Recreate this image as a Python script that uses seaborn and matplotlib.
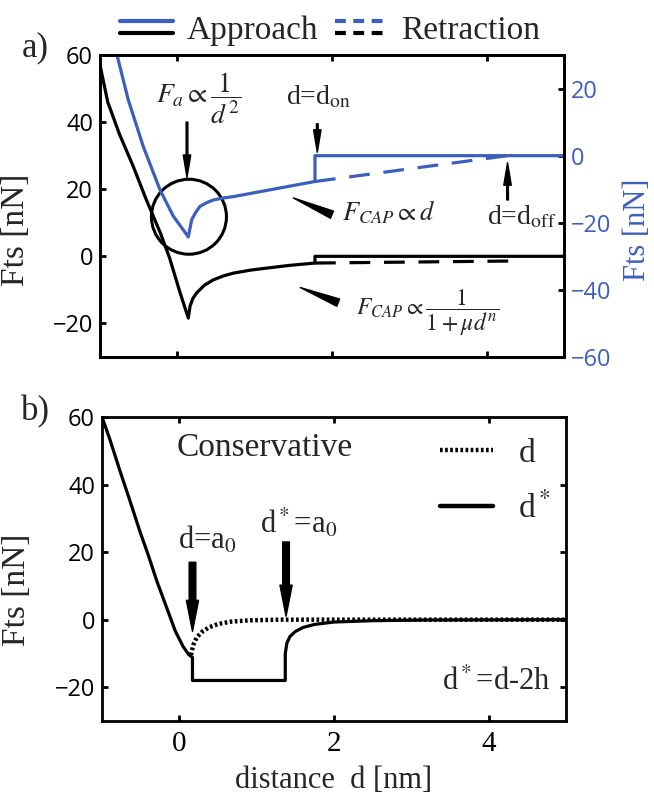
import numpy as np
import pandas as pd
import matplotlib
matplotlib.use("Agg")
import matplotlib.pyplot as plt
import seaborn as sns
from matplotlib.lines import Line2D
from matplotlib.patches import Ellipse
from matplotlib.legend_handler import HandlerBase

# ==========================================
# Data
# ==========================================
# panel a) - approach, black curve (left axis)
a_app_black_x = [-1.0, -0.9, -0.75, -0.57, -0.4, -0.22, -0.1, 0.035, 0.142, 0.164, 0.2, 0.25,
                 0.35, 0.466, 0.6, 0.725, 0.95, 1.157, 1.45, 1.78, 1.78, 5.0]
a_app_black_y = [57, 46, 36.5, 26.8, 16.8, 7, -0.5, -10.8, -18.4, -14.9, -12.6, -10.9,
                 -8.6, -7.0, -5.8, -5.0, -4.1, -3.5, -2.7, -2.0, 0, 0]
# panel a) - retraction, black dashed (left axis)
a_ret_black_x = [1.78, 4.3]
a_ret_black_y = [-2.0, -1.4]

# panel a) - approach, blue curve (right axis)
a_app_blue_x = [-0.78, -0.634, -0.44, -0.224, -0.05, 0.142, 0.165, 0.186, 0.24, 0.294, 0.38,
                0.466, 0.6, 0.725, 1.78, 1.78, 5.0]
a_app_blue_y = [30, 16.6, 2.7, -10.2, -18.1, -24.2, -21.5, -19.1, -16.8, -15.1, -14.0,
                -13.2, -12.6, -12.2, -7.7, 0, 0]
# panel a) - retraction, blue dashed (right axis)
a_ret_blue_x = [1.78, 4.27]
a_ret_blue_y = [-7.7, 0]

# panel b) - d* (solid)
b_dstar_x = [-1.0, -0.9, -0.767, -0.65, -0.508, -0.4, -0.292, -0.163, -0.05, 0.05, 0.12, 0.17,
             0.17, 1.37, 1.37, 1.39, 1.43, 1.5, 1.6, 1.75, 2.0, 2.5, 3.2, 5.0]
b_dstar_y = [60, 53.5, 44, 36, 26, 19, 11.5, 3.5, -3.5, -8, -10.3, -11.2,
             -18, -18, -10, -7, -5, -3.5, -2.3, -1.4, -0.7, -0.3, -0.1, 0]
# panel b) - d (dotted)
b_d_x = [0.15, 0.18, 0.226, 0.3, 0.39, 0.5, 0.66, 0.9, 1.3, 5.0]
b_d_y = [-10.5, -7.5, -5.2, -3.5, -2.2, -1.3, -0.6, -0.2, 0, 0]

x_ticks = [0, 2, 4]
a_left_ticks = [60, 40, 20, 0, -20]
a_right_ticks = [20, 0, -20, -40, -60]
b_ticks = [60, 40, 20, 0, -20]

BLUE = "#3c5fbe"
SERIF = "Liberation Serif"
SANS = "Open Sans"

# ==========================================
# Style
# ==========================================
sns.set_theme(style="ticks")
plt.rcParams.update({
    "font.family": [SANS, "DejaVu Sans"],
    "mathtext.fontset": "stix",
    "axes.linewidth": 2.0,
    "axes.edgecolor": "black",
    "xtick.direction": "in",
    "ytick.direction": "in",
    "xtick.major.size": 4,
    "ytick.major.size": 4,
    "xtick.major.width": 2,
    "ytick.major.width": 2,
    "xtick.labelsize": 17,
    "ytick.labelsize": 17,
    "xtick.color": "black",
    "ytick.color": "black",
})

LW = 2.3
DASH = (0, (6.5, 4.3))


class StackedHandler(HandlerBase):
    # two stacked line samples (blue over black) in one legend entry
    def create_artists(self, legend, orig_handle, xdescent, ydescent, width, height, fontsize, trans):
        out = []
        for i, h in enumerate(orig_handle):
            yy = height * (0.78 - 0.5 * i) - ydescent
            ln = Line2D([-xdescent, width - xdescent], [yy, yy])
            ln.update_from(h)
            ln.set_transform(trans)
            out.append(ln)
        return out


fig = plt.figure(figsize=(6.54, 7.94), dpi=100)

# ==========================================
# Panel a)
# ==========================================
ax = fig.add_axes([100 / 654, 1 - 357 / 794, 464 / 654, 302 / 794])
ax2 = ax.twinx()

sns.lineplot(x=a_app_black_x, y=a_app_black_y, ax=ax, color="black", lw=LW, sort=False, estimator=None)
sns.lineplot(x=a_ret_black_x, y=a_ret_black_y, ax=ax, color="black", lw=LW, sort=False, estimator=None,
             linestyle=DASH)
sns.lineplot(x=a_app_blue_x, y=a_app_blue_y, ax=ax2, color=BLUE, lw=LW, sort=False, estimator=None)
sns.lineplot(x=a_ret_blue_x, y=a_ret_blue_y, ax=ax2, color=BLUE, lw=LW, sort=False, estimator=None,
             linestyle=DASH)

ax.set_xlim(-1, 5)
ax.set_ylim(-30, 60)
ax2.set_ylim(-60, 30)
ax.set_xticks(x_ticks)
ax.set_xticklabels([])
ax.set_yticks(a_left_ticks)
ax2.set_yticks(a_right_ticks)
ax.tick_params(axis="x", top=True, bottom=True)
ax.tick_params(axis="y", pad=5)
ax2.tick_params(axis="y", colors=BLUE, pad=5)
ax2.tick_params(axis="y", which="major", color="black")
for s in ax2.spines.values():
    s.set_linewidth(2.0)
    s.set_color("black")

ax.set_ylabel("Fts [nN]", family=SERIF, fontsize=24)
ax.yaxis.set_label_coords(-0.149, 0.42)
ax2.set_ylabel("Fts [nN]", family=SERIF, fontsize=22, color=BLUE, rotation=90)
ax2.yaxis.set_label_coords(1.128, 0.42)

# annotations
ax.add_patch(Ellipse((0.15, 11.8), width=75 / 77.3, height=75 / 3.356, fill=False, ec="black", lw=2.2))
thin = dict(arrowstyle="simple,head_length=0.9,head_width=0.3,tail_width=0.07",
            fc="black", ec="black", mutation_scale=18, shrinkA=0, shrinkB=0)
ax.annotate("", xy=(0.125, 23.5), xytext=(0.125, 40), arrowprops=thin)
ax.annotate("", xy=(1.81, 31), xytext=(1.81, 39.5), arrowprops=thin)
ax.annotate("", xy=(4.27, 27.9), xytext=(4.27, 16.8), arrowprops=thin)
wedge = dict(arrowstyle="wedge,tail_width=0.4", fc="black", ec="black",
             mutation_scale=14, shrinkA=0, shrinkB=0)
ax.annotate("", xy=(1.50, 17.4), xytext=(2.0, 12.4), arrowprops=wedge)
ax.annotate("", xy=(1.59, -9.3), xytext=(2.08, -13.8), arrowprops=wedge)

ax.text(0.28, 47, r"$F_a \propto \dfrac{1}{d^2}$", fontsize=20, ha="center", va="center")
ax.text(1.82, 47.5, r"d=d$_{\rm on}$", family=SERIF, fontsize=20, ha="center", va="center")
ax.text(4.45, 11.8, r"d=d$_{\rm off}$", family=SERIF, fontsize=20, ha="center", va="center")
ax.text(2.73, 13, r"$F_{CAP} \propto d$", fontsize=19, ha="center", va="center")
ax.text(3.23, -16.8, r"$F_{CAP} \propto \dfrac{1}{1+\mu d^n}$", fontsize=17, ha="center", va="center")

fig.text(35 / 654, 1 - 48 / 794, "a)", family=SERIF, fontsize=25, ha="center", va="center")

# legend above panel a)
app_h = (Line2D([], [], color=BLUE, lw=3), Line2D([], [], color="black", lw=3))
ret_h = (Line2D([], [], color=BLUE, lw=3, linestyle=(0, (2.6, 1.8))),
         Line2D([], [], color="black", lw=3, linestyle=(0, (2.6, 1.8))))
fig.legend([app_h, ret_h], ["Approach", "Retraction"], handler_map={tuple: StackedHandler()},
           loc="center", bbox_to_anchor=(0.505, 1 - 31 / 794), ncol=2, frameon=False,
           prop={"family": SERIF, "size": 24}, handlelength=1.6, handletextpad=0.4,
           columnspacing=0.5, borderpad=0, borderaxespad=0)

# ==========================================
# Panel b)
# ==========================================
bx = fig.add_axes([102 / 654, 1 - 721 / 794, 464 / 654, 304 / 794])
dot_style = (0, (0.6, 0.55))
sns.lineplot(x=b_d_x, y=b_d_y, ax=bx, color="black", lw=3.2, sort=False, estimator=None,
             linestyle=dot_style)
sns.lineplot(x=b_dstar_x, y=b_dstar_y, ax=bx, color="black", lw=LW, sort=False, estimator=None)
bx.lines[0].set_dash_capstyle("butt")

bx.set_xlim(-1, 5)
bx.set_ylim(-30, 60)
bx.set_xticks(x_ticks)
bx.set_yticks(b_ticks)
bx.tick_params(axis="x", top=True, bottom=True, pad=7)
bx.tick_params(axis="y", left=True, right=True, pad=5)
bx.set_xticklabels([str(t) for t in x_ticks], family=SERIF, fontsize=21)
bx.set_ylabel("Fts [nN]", family=SERIF, fontsize=24)
bx.yaxis.set_label_coords(-0.151, 0.43)
bx.set_xlabel("distance  d [nm]", family=SERIF, fontsize=22)
bx.xaxis.set_label_coords(0.5, -0.148)

thick = dict(arrowstyle="simple,head_length=1.4,head_width=0.55,tail_width=0.3",
             fc="black", ec="black", mutation_scale=16, shrinkA=0, shrinkB=0)
bx.annotate("", xy=(0.17, -3.5), xytext=(0.17, 17), arrowprops=thick)
bx.annotate("", xy=(1.38, 1), xytext=(1.38, 23), arrowprops=thick)
bx.text(0.36, 23.6, r"d=a$_0$", family=SERIF, fontsize=22, ha="center", va="center")
bx.text(1.54, 28.6, r"d$^*$=a$_0$", family=SERIF, fontsize=22, ha="center", va="center")
bx.text(1.1, 51, "Conservative", family=SERIF, fontsize=24, ha="center", va="center")
bx.text(4.1, -18.7, r"d$^*$=d-2h", family=SERIF, fontsize=22, ha="center", va="center")

leg_h = [Line2D([], [], color="black", lw=3.2, linestyle=dot_style, dash_capstyle="butt"),
         Line2D([], [], color="black", lw=3.2)]
bx.legend(leg_h, ["d", r"d$^*$"], loc="upper left", bbox_to_anchor=((440 - 102) / 464, 0.93),
          frameon=False, prop={"family": SERIF, "size": 24}, handlelength=1.6,
          handletextpad=0.75, labelspacing=0.7, borderpad=0, borderaxespad=0)

fig.text(35 / 654, 1 - 412 / 794, "b)", family=SERIF, fontsize=25, ha="center", va="center")

fig.savefig("out.png", dpi=100)
